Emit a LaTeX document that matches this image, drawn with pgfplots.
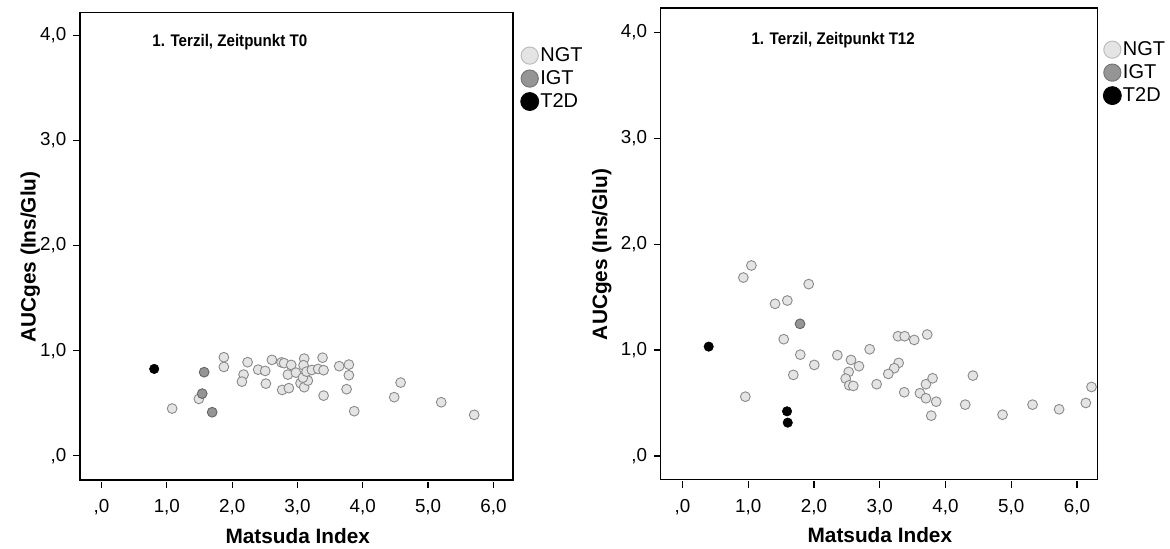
\documentclass[border=0pt]{standalone}
\usepackage{fontspec}
\setmainfont{Liberation Sans}
\newfontfamily\titlefont[FakeStretch=0.9]{Liberation Sans}
\usepackage{pgfplots}
\pgfplotsset{compat=1.18}
\definecolor{ngtfill}{HTML}{E4E4E4}
\definecolor{ngtedge}{HTML}{8A8A8A}
\definecolor{igtfill}{HTML}{959595}
\definecolor{igtedge}{HTML}{666666}
\definecolor{legngtedge}{HTML}{BDBDBD}

\pgfplotstableread{
x y
1.081 0.450
1.490 0.542
1.873 0.938
1.873 0.846
2.236 0.891
2.175 0.773
2.149 0.706
2.398 0.820
2.506 0.808
2.516 0.687
2.608 0.913
2.755 0.889
2.795 0.882
2.904 0.865
2.853 0.773
2.766 0.627
2.868 0.644
2.976 0.792
3.103 0.925
3.093 0.862
3.047 0.691
3.103 0.653
3.159 0.716
3.083 0.744
3.139 0.801
3.220 0.817
3.317 0.827
3.400 0.815
3.384 0.934
3.400 0.573
3.639 0.853
3.787 0.868
3.787 0.767
3.752 0.634
3.869 0.425
4.481 0.558
4.579 0.697
5.201 0.510
5.706 0.390
6.355 0.865
}\leftngt
\pgfplotstableread{
x y
1.571 0.796
1.541 0.592
1.694 0.415
}\leftigt
\pgfplotstableread{
x y
0.806 0.827
}\lefttzd

\pgfplotstableread{
x y
1.049 1.799
0.927 1.685
1.921 1.623
1.409 1.437
1.596 1.468
1.541 1.103
1.793 0.957
2.006 0.860
1.687 0.766
0.957 0.560
2.356 0.952
2.848 1.008
2.564 0.907
2.685 0.848
2.529 0.794
2.483 0.731
2.538 0.668
2.599 0.662
2.954 0.678
3.278 1.131
3.380 1.131
3.526 1.096
3.723 1.147
3.289 0.879
3.222 0.829
3.131 0.775
3.374 0.602
3.612 0.593
3.704 0.678
3.805 0.734
3.704 0.545
3.860 0.513
3.784 0.381
4.418 0.759
4.301 0.485
4.869 0.390
5.325 0.485
5.729 0.441
6.135 0.501
6.222 0.652
}\rightngt
\pgfplotstableread{
x y
1.789 1.248
}\rightigt
\pgfplotstableread{
x y
0.400 1.033
1.591 0.422
1.602 0.315
}\righttzd

\pgfplotsset{
  spss/.style={
    scale only axis,
    axis line style={black, line width=0.7pt},
    xtick={0,1,2,3,4,5,6},
    xticklabels={{,0},{1,0},{2,0},{3,0},{4,0},{5,0},{6,0}},
    ytick={0,1,2,3,4},
    yticklabels={{,0},{1,0},{2,0},{3,0},{4,0}},
    xtick pos=bottom, ytick pos=left,
    tick align=outside,
    major tick length=3.3pt,
    xtick style={black, line width=0.6pt, yshift=-0.8pt},
    ytick style={black, line width=0.6pt},
    tick label style={font=\fontsize{9.4}{10}\selectfont},
    xticklabel style={yshift=-3pt},
    label style={font=\fontsize{10.4}{12}\selectfont\bfseries},
    xlabel={Matsuda Index},
    ylabel={AUCges (Ins/Glu)},
    clip marker paths=true,
    legend style={draw=none, fill=none, inner sep=0pt, anchor=north west,
      font=\fontsize{10}{11}\selectfont, row sep=1.8pt,
      nodes={inner sep=0.6pt}},
    legend cell align=left,
  },
  ngt/.style={only marks, mark=*, mark size=2.45pt,
    mark options={fill=ngtfill, draw=ngtedge, line width=0.45pt},
    legend image code/.code={\draw[fill=ngtfill, draw=legngtedge, line width=0.5pt] (0pt,0pt) circle (4.3pt);}},
  igt/.style={only marks, mark=*, mark size=2.45pt,
    mark options={fill=igtfill, draw=igtedge, line width=0.45pt},
    legend image code/.code={\draw[fill=igtfill, draw=igtfill!80!black, line width=0.5pt] (0pt,0pt) circle (4.3pt);}},
  tzd/.style={only marks, mark=*, mark size=2.35pt,
    mark options={fill=black, draw=black, line width=0.3pt},
    legend image code/.code={\fill[black] (0pt,0pt) circle (4.5pt);}},
}

\begin{document}
\begin{tikzpicture}
\useasboundingbox (0,0) rectangle (585pt,274pt);
\begin{axis}[spss,
  at={(40pt,34pt)}, anchor=south west,
  width=216.5pt, height=233.85pt,
  xmin=-0.33, xmax=6.30, ymin=-0.23, ymax=4.22,
  xlabel style={at={(axis description cs:0.503,-0.12)}, anchor=center},
  ylabel style={at={(axis description cs:-0.115,0.477)}, anchor=center},
  legend style={at={(axis description cs:1.016,0.929)}},
]
\addplot[ngt] table {\leftngt};
\addlegendentry{NGT}
\addplot[igt] table {\leftigt};
\addlegendentry{IGT}
\addplot[tzd] table {\lefttzd};
\addlegendentry{T2D}
\node[font=\fontsize{8.4}{9}\titlefont\bfseries, anchor=center] at (rel axis cs:0.346,0.936) {1. Terzil, Zeitpunkt T0};
\end{axis}
\begin{axis}[spss,
  at={(330.35pt,34.35pt)}, anchor=south west,
  width=218.3pt, height=235.65pt,
  xmin=-0.33, xmax=6.31, ymin=-0.22, ymax=4.23,
  xlabel style={at={(axis description cs:0.502,-0.119)}, anchor=center},
  ylabel style={at={(axis description cs:-0.135,0.477)}, anchor=center},
  legend style={at={(axis description cs:1.012,0.933)}},
]
\addplot[ngt] table {\rightngt};
\addlegendentry{NGT}
\addplot[igt] table {\rightigt};
\addlegendentry{IGT}
\addplot[tzd] table {\righttzd};
\addlegendentry{T2D}
\node[font=\fontsize{8.4}{9}\titlefont\bfseries, anchor=center] at (rel axis cs:0.395,0.932) {1. Terzil, Zeitpunkt T12};
\end{axis}
\end{tikzpicture}
\end{document}
